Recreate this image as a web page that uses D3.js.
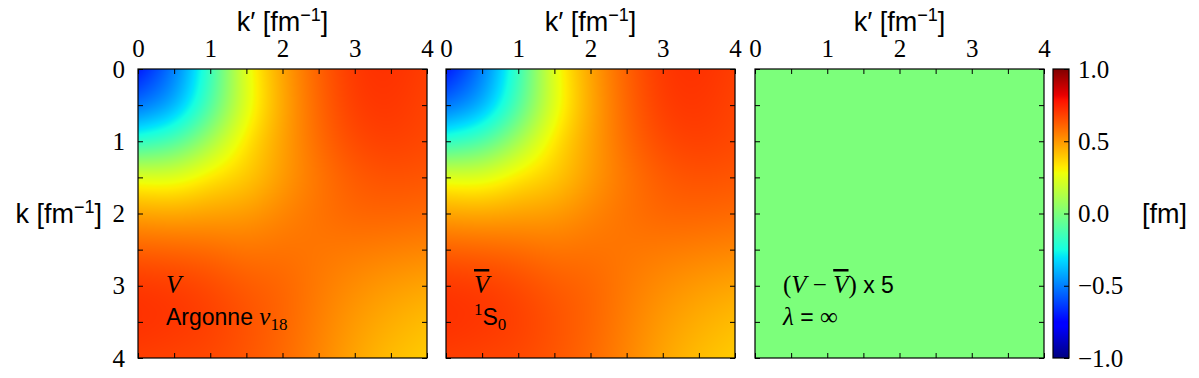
<!DOCTYPE html>
<html lang="en">
<head>
<meta charset="UTF-8">
<title>V vs Vbar, 1S0</title>
<script src="https://d3js.org/d3.v7.min.js"></script>
<style>
  body { margin: 0; background: #fff; }
  svg { display: block; }
  .sans { font-family: "Liberation Sans", Arial, sans-serif; }
  .serif { font-family: "Liberation Serif", serif; }
</style>
</head>
<body>
<svg id="chart" width="1199" height="378"></svg>
<script>
// momentum grid in fm^-1 (rows = k, columns = k')
const kGrid = [0, 0.5, 1, 1.5, 2, 2.5, 3, 3.5, 4];
const tickLabels = [0, 1, 2, 3, 4];
const cbarTicks = [-1, -0.5, 0, 0.5, 1];

// Argonne v18 1S0 potential V(k,k') [fm]
const vArgonne = [
  [-0.70, -0.52, -0.18, 0.28, 0.48, 0.62, 0.71, 0.72, 0.69],
  [-0.54, -0.46, -0.14, 0.25, 0.47, 0.61, 0.70, 0.71, 0.68],
  [-0.21, -0.14,  0.10, 0.35, 0.48, 0.60, 0.67, 0.69, 0.67],
  [ 0.28,  0.25,  0.35, 0.38, 0.49, 0.57, 0.63, 0.65, 0.64],
  [ 0.48,  0.47,  0.48, 0.49, 0.54, 0.58, 0.61, 0.61, 0.60],
  [ 0.62,  0.61,  0.60, 0.57, 0.58, 0.57, 0.56, 0.55, 0.54],
  [ 0.71,  0.70,  0.67, 0.63, 0.61, 0.56, 0.52, 0.49, 0.47],
  [ 0.72,  0.71,  0.69, 0.65, 0.61, 0.55, 0.49, 0.45, 0.42],
  [ 0.69,  0.68,  0.67, 0.64, 0.60, 0.54, 0.47, 0.42, 0.39]
];
// evolved Vbar at lambda = infinity: reads the same as V in the middle panel
const vBar = vArgonne.map(row => row.slice());
// right panel: (V - Vbar) x 5
const vDiff = vArgonne.map((row, i) => row.map((v, j) => (v - vBar[i][j]) * 5));

const svg = d3.select('#chart');
const top0 = 69, size = 289;
const panelLeft = [138, 446, 755];

// matplotlib "jet"
const jetT = [0, 0.11, 0.125, 0.34, 0.35, 0.375, 0.64, 0.65, 0.66, 0.89, 0.91, 1];
const jetC = ['#000080', '#0000ff', '#0000ff', '#00dbff', '#00e6f7', '#15ffe2',
              '#efff08', '#f7f500', '#ffec00', '#ff1300', '#e80000', '#800000'];
const jet = d3.scaleLinear()
    .domain(jetT.map(t => 2 * t - 1))
    .range(jetC)
    .clamp(true);

const y = d3.scaleLinear().domain([0, 4]).range([top0, top0 + size]);
const halfTicks = d3.range(0, 4.01, 0.5);

function drawMap(g, x, matrix) {
    const w = Math.round(x(4) - x(0)), h = Math.round(y(4) - y(0));
    const canvas = document.createElement('canvas');
    canvas.width = w; canvas.height = h;
    const ctx = canvas.getContext('2d');
    const img = ctx.createImageData(w, h);
    const rows = matrix.map(r => d3.interpolateBasis(r));
    for (let i = 0; i < w; i++) {
        const tx = x.invert(x(0) + i + 0.5) / 4;
        const col = d3.interpolateBasis(rows.map(f => f(tx)));
        for (let j = 0; j < h; j++) {
            const ty = (y.invert(y(0) + j + 0.5)) / 4;
            const c = d3.rgb(jet(col(ty)));
            const p = 4 * (j * w + i);
            img.data[p] = c.r; img.data[p + 1] = c.g; img.data[p + 2] = c.b; img.data[p + 3] = 255;
        }
    }
    ctx.putImageData(img, 0, 0);
    g.append('image')
        .attr('x', x(0)).attr('y', y(0))
        .attr('width', w).attr('height', h)
        .attr('preserveAspectRatio', 'none')
        .attr('href', canvas.toDataURL());
}

function styleAxis(a) {
    a.select('.domain').remove();
    a.attr('font-family', '"Liberation Serif", serif').attr('font-size', 25);
    a.selectAll('line').attr('stroke', '#000');
}

const matrices = [vArgonne, vBar, vDiff];
matrices.forEach((m, p) => {
    const x = d3.scaleLinear().domain([0, 4]).range([panelLeft[p], panelLeft[p] + size]);
    const g = svg.append('g');
    drawMap(g, x, m);

    const lab = d => Number.isInteger(d) ? d : '';
    g.append('g').attr('transform', `translate(0,${y(0)})`)
        .call(d3.axisTop(x).tickValues(halfTicks).tickFormat(lab).tickSize(-5).tickPadding(12))
        .call(styleAxis);
    g.append('g').attr('transform', `translate(0,${y(4)})`)
        .call(d3.axisBottom(x).tickValues(halfTicks).tickFormat('').tickSize(-5))
        .call(styleAxis);
    g.append('g').attr('transform', `translate(${x(0)},0)`)
        .call(d3.axisLeft(y).tickValues(halfTicks).tickFormat(p === 0 ? lab : '').tickSize(-5).tickPadding(13))
        .call(styleAxis);
    g.append('g').attr('transform', `translate(${x(4)},0)`)
        .call(d3.axisRight(y).tickValues(halfTicks).tickFormat('').tickSize(-5))
        .call(styleAxis);

    g.append('rect')
        .attr('x', x(0)).attr('y', y(0))
        .attr('width', x(4) - x(0)).attr('height', y(4) - y(0))
        .attr('fill', 'none').attr('stroke', '#000').attr('stroke-width', 1.2);

    // top title
    const t = g.append('text').attr('class', 'sans')
        .attr('x', x(2)).attr('y', 31)
        .attr('text-anchor', 'middle').attr('font-size', 27);
    t.append('tspan').text('k\u2032 [fm');
    t.append('tspan').attr('dy', -10).attr('font-size', 18).text('\u22121');
    t.append('tspan').attr('dy', 10).text(']');

    // annotations
    const ax = x(0) + 28;
    if (p === 0) {
        g.append('text').attr('class', 'serif').attr('font-style', 'italic')
            .attr('x', ax).attr('y', 293).attr('font-size', 25).text('V');
        const a2 = g.append('text').attr('x', ax).attr('y', 325);
        a2.append('tspan').attr('class', 'sans').attr('font-size', 23).text('Argonne ');
        a2.append('tspan').attr('class', 'serif').attr('font-style', 'italic').attr('font-size', 25).text('v');
        a2.append('tspan').attr('class', 'serif').attr('font-size', 17).attr('dy', 5).text('18');
    } else if (p === 1) {
        g.append('text').attr('class', 'serif').attr('font-style', 'italic')
            .attr('x', ax).attr('y', 293).attr('font-size', 25)
            .style('text-decoration', 'overline').text('V');
        const a2 = g.append('text').attr('x', ax).attr('y', 325);
        a2.append('tspan').attr('class', 'serif').attr('font-size', 17).attr('dy', -10).text('1');
        a2.append('tspan').attr('class', 'sans').attr('font-size', 23).attr('dy', 10).text('S');
        a2.append('tspan').attr('class', 'serif').attr('font-size', 17).attr('dy', 5).text('0');
    } else {
        const a1 = g.append('text').attr('x', ax).attr('y', 293).attr('font-size', 25);
        a1.append('tspan').attr('class', 'serif').text('(');
        a1.append('tspan').attr('class', 'serif').attr('font-style', 'italic').text('V');
        a1.append('tspan').attr('class', 'serif').text(' \u2212 ');
        a1.append('tspan').attr('class', 'serif').attr('font-style', 'italic')
            .style('text-decoration', 'overline').text('V');
        a1.append('tspan').attr('class', 'serif').text(')');
        a1.append('tspan').attr('class', 'sans').attr('font-size', 23).text(' x 5');
        const a2 = g.append('text').attr('x', ax).attr('y', 325).attr('font-size', 25);
        a2.append('tspan').attr('class', 'serif').attr('font-style', 'italic').text('\u03bb');
        a2.append('tspan').attr('class', 'sans').attr('font-size', 23).text(' = ');
        a2.append('tspan').attr('class', 'serif').text('\u221e');
    }
});

// y label
const yl = svg.append('text').attr('class', 'sans')
    .attr('x', 102).attr('y', 223).attr('text-anchor', 'end').attr('font-size', 27);
yl.append('tspan').text('k [fm');
yl.append('tspan').attr('dy', -10).attr('font-size', 18).text('\u22121');
yl.append('tspan').attr('dy', 10).text(']');

// colorbar
const cbX = 1053, cbW = 16;
const cScale = d3.scaleLinear().domain([-1, 1]).range([top0 + size, top0]);
const grad = svg.append('defs').append('linearGradient')
    .attr('id', 'jetGrad').attr('x1', 0).attr('y1', 1).attr('x2', 0).attr('y2', 0);
jetT.forEach((t, i) => grad.append('stop').attr('offset', t).attr('stop-color', jetC[i]));
svg.append('rect')
    .attr('x', cbX).attr('y', cScale(1))
    .attr('width', cbW).attr('height', cScale(-1) - cScale(1))
    .attr('fill', 'url(#jetGrad)').attr('stroke', '#000').attr('stroke-width', 1.2);
svg.append('g').attr('transform', `translate(${cbX + cbW},0)`)
    .call(d3.axisRight(cScale).tickValues(cbarTicks).tickFormat(d3.format('.1f')).tickSize(-5).tickPadding(9))
    .call(styleAxis);

svg.append('text').attr('class', 'sans')
    .attr('x', 1142).attr('y', 223).attr('font-size', 27).text('[fm]');
</script>
</body>
</html>
